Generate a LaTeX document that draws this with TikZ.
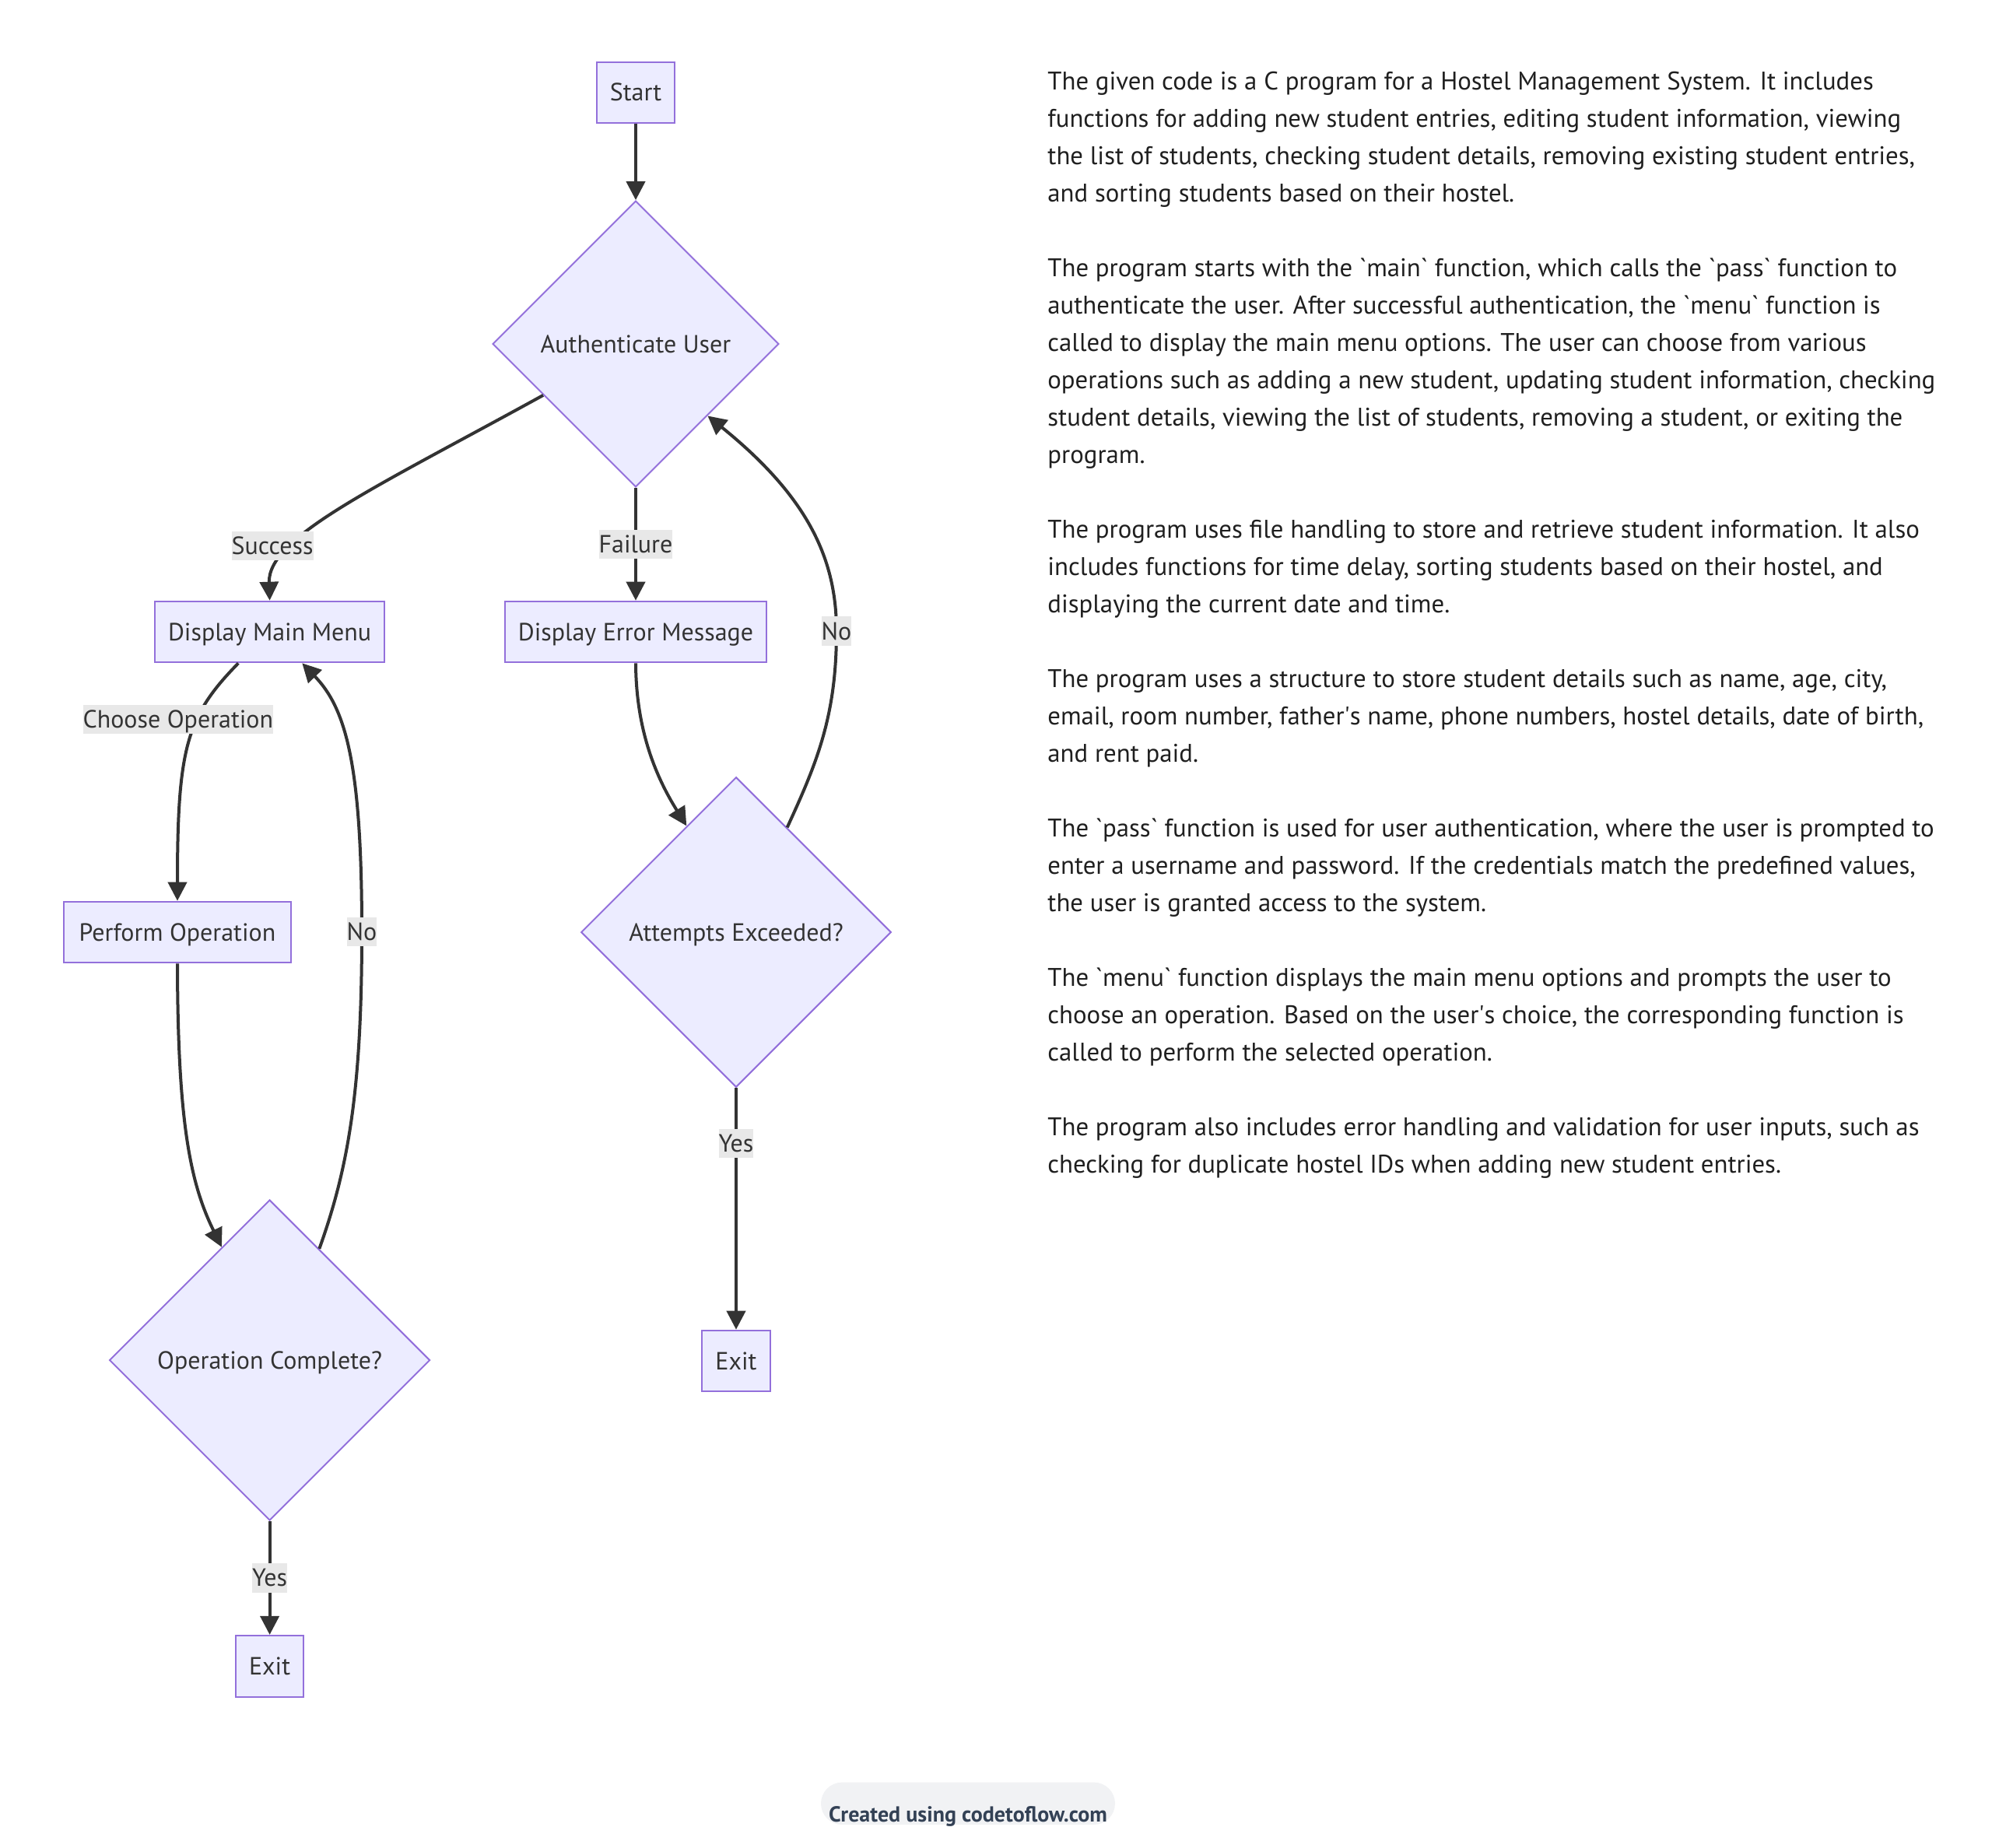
\documentclass[tikz,border=0pt]{standalone}
\usepackage{fontspec}
\setmainfont{PT Sans}
\usetikzlibrary{positioning, arrows.meta, shapes.geometric}

\definecolor{boxfill}{HTML}{ECECFF}
\definecolor{boxline}{HTML}{9370DB}
\definecolor{ink}{HTML}{333333}
\definecolor{labelbg}{HTML}{E8E8E8}
\definecolor{pillbg}{HTML}{F1F2F4}
\definecolor{pillink}{HTML}{334155}

\newcommand{\bq}{\textasciigrave}

\begin{document}
\begin{tikzpicture}[
    x=1pt, y=-1pt,
    >={Triangle[length=12pt, width=12pt]},
    font=\fontsize{16}{19}\selectfont,
    box/.style={
        draw=boxline, fill=boxfill, line width=1pt, text=ink,
        minimum height=39.3pt, inner xsep=8.5pt, inner ysep=0pt,
        text height=13.5pt, text depth=2.5pt,
    },
    decision/.style={
        diamond, aspect=1, draw=boxline, fill=boxfill, line width=1pt,
        text=ink, inner sep=11.4pt, text height=13.5pt, text depth=2.5pt,
    },
    arrow/.style={->, line width=2pt, draw=ink},
    edgelabel/.style={fill=labelbg, text=ink, inner xsep=0pt, inner ysep=1.35pt,
        text height=13.5pt, text depth=2.5pt},
    blurb/.style={align=left, anchor=base west, inner sep=0pt, text=black!88,
        font=\fontsize{16.4}{24}\selectfont},
    pill/.style={fill=pillbg, draw=none, rounded corners=13.6pt,
        minimum width=189pt, minimum height=27.2pt, inner sep=0pt},
    credit/.style={anchor=base, text=pillink, font=\fontsize{14}{17}\selectfont\bfseries},
]

\useasboundingbox (0, 0) rectangle (1280, 1187);

% ============ NODES ============

% main column
\node[box]      (start)    at (408.5, 59.4)  {Start};
\node[decision] (auth)     at (408.5, 221)   {Authenticate User};

% success branch (left)
\node[box]      (menu)     at (173.3, 406)   {Display Main Menu};
\node[box, inner xsep=10pt] (perform) at (114, 599) {Perform Operation};
\node[decision] (done)     at (173.3, 874)   {Operation Complete?};
\node[box]      (exitB)    at (173.3, 1070.6) {Exit};

% failure branch (right)
\node[box]      (err)      at (408.5, 406)   {Display Error Message};
\node[decision] (attempts) at (473, 599)     {Attempts Exceeded?};
\node[box]      (exitA)    at (473, 874.5)   {Exit};

% ============ ARROWS ============

\draw[arrow] (start.south) -- (auth.north);

% Authenticate -> both branches
\draw[arrow] (auth.209) .. controls (240, 314) and (172, 345) .. (menu.north)
    node[edgelabel, pos=0.7, xshift=-15pt] (lsuccess) {Success};
\draw[arrow] (auth.south) -- node[edgelabel] (lfailure) {Failure} (err.north);

% menu loop
\draw[arrow] (menu.-135) .. controls (120, 460) and (114, 480) .. (perform.north)
    node[edgelabel, pos=0.35, xshift=-13pt, yshift=-1.7pt] (lchoose) {Choose Operation};
\draw[arrow] (perform.south) .. controls (114.2, 720) and (122, 760) .. (done.113);
\draw[arrow] (done.66) .. controls (224, 750) and (232.5, 700) .. (232.5, 598.8)
    node[edgelabel] (lnoA) {No}
    .. controls (232.5, 490) and (222, 455) .. (menu.-44);
\draw[arrow] (done.south) -- node[edgelabel] (lyesB) {Yes} (exitB.north);

% retry loop
\draw[arrow] (err.south) .. controls (408.7, 470) and (422, 500) .. (attempts.115);
\draw[arrow] (attempts.64) .. controls (525, 490) and (537.5, 460) .. (537.5, 405.5)
    node[edgelabel] (lnoB) {No}
    .. controls (537.5, 360) and (520, 320) .. (auth.-45);
\draw[arrow] (attempts.south) -- node[edgelabel, pos=0.23] (lyesA) {Yes} (exitA.north);

% ============ SUMMARY TEXT ============

% anchored on the baseline of its last line
\node[blurb] (summary) at (673, 753.5) {%
The given code is a C program for a Hostel Management System. It includes\\
functions for adding new student entries, editing student information, viewing\\
the list of students, checking student details, removing existing student entries,\\
and sorting students based on their hostel.\\[24pt]
The program starts with the \bq main\bq{} function, which calls the \bq pass\bq{} function to\\
authenticate the user. After successful authentication, the \bq menu\bq{} function is\\
called to display the main menu options. The user can choose from various\\
operations such as adding a new student, updating student information, checking\\
student details, viewing the list of students, removing a student, or exiting the\\
program.\\[24pt]
The program uses file handling to store and retrieve student information. It also\\
includes functions for time delay, sorting students based on their hostel, and\\
displaying the current date and time.\\[24pt]
The program uses a structure to store student details such as name, age, city,\\
email, room number, father\textquotesingle s name, phone numbers, hostel details, date of birth,\\
and rent paid.\\[24pt]
The \bq pass\bq{} function is used for user authentication, where the user is prompted to\\
enter a username and password. If the credentials match the predefined values,\\
the user is granted access to the system.\\[24pt]
The \bq menu\bq{} function displays the main menu options and prompts the user to\\
choose an operation. Based on the user\textquotesingle s choice, the corresponding function is\\
called to perform the selected operation.\\[24pt]
The program also includes error handling and validation for user inputs, such as\\
checking for duplicate hostel IDs when adding new student entries.};

% ============ FOOTER ============

\node[pill]   (badge)  at (622, 1158.9) {};
\node[credit] (credit) at (622, 1170.8) {Created using codetoflow.com};

\end{tikzpicture}
\end{document}
